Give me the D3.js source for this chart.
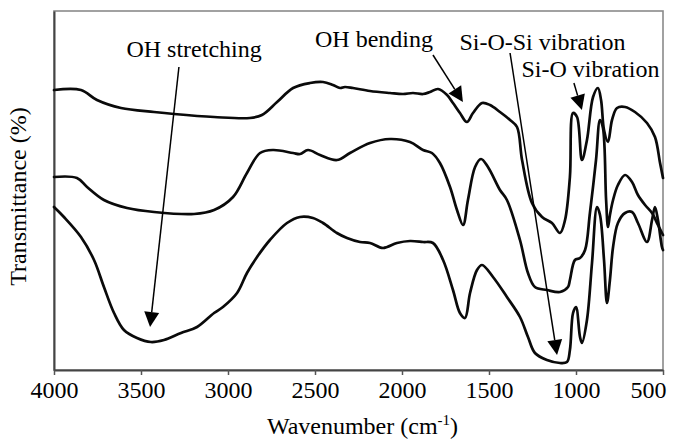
<!DOCTYPE html>
<html>
<head>
<meta charset="utf-8">
<script src="https://cdn.jsdelivr.net/npm/d3@7"></script>
<style>
  html, body { margin: 0; padding: 0; background: #fff; }
  svg { display: block; }
</style>
</head>
<body>
<svg id="chart" width="673" height="443"></svg>
<script>
// ---- data (wavenumber in cm^-1, transmittance in arbitrary units) ----
const tickLabels = [4000, 3500, 3000, 2500, 2000, 1500, 1000, 500];

const topWn = [4000,3845,3753,3615,3425,3310,3080,2874,2805,2718,2626,2529,2454,2397,2356,2328,2282,2184,2069,1994,1937,1879,1839,1793,1741,1707,1667,1627,1592,1540,1494,1437,1379,1339,1310,1253,1195,1138,1092,1063,1035,1017,994,966,937,902,874,856,839,816,793,764,718,661,592,546,517,500];
const topT  = [280,280,270,262,258,256,253,252,255,268,282,287,288,285,282,283,282,279,277,276,277,276,278,281,275,267,257,248,257,267,265,258,250,243,210,167,153,147,137,150,193,257,253,210,230,273,282,270,240,228,250,262,263,258,247,233,207,192];

const midWn = [4000,3868,3810,3713,3580,3425,3195,3080,2971,2891,2816,2741,2626,2586,2540,2471,2374,2299,2184,2069,1954,1879,1828,1782,1724,1684,1649,1621,1580,1546,1506,1437,1397,1322,1276,1236,1167,1092,1046,1035,1006,977,948,920,885,862,845,827,816,805,787,759,718,678,644,603,563,529,500];
const midT  = [193,192,183,170,162,158,156,160,173,197,217,220,217,216,220,215,210,217,227,231,228,220,217,207,183,160,145,170,203,211,203,180,170,130,97,83,80,78,83,90,110,112,120,157,210,250,242,170,143,155,170,185,195,188,175,165,157,145,135];

const botWn = [4000,3943,3845,3770,3713,3655,3598,3523,3443,3368,3270,3178,3080,3029,2948,2891,2833,2759,2661,2586,2512,2454,2374,2316,2241,2184,2109,2029,1954,1879,1822,1764,1707,1667,1638,1609,1569,1540,1477,1397,1322,1276,1236,1167,1092,1052,1035,1017,1000,977,966,937,908,879,862,839,822,805,787,759,718,678,644,592,563,546,529,506,500];
const botT  = [163,153,133,110,83,57,40,32,28,30,37,43,57,63,77,97,113,130,147,153,152,147,137,132,128,127,122,127,129,128,127,110,80,57,52,77,100,105,93,73,53,33,17,10,7,8,20,57,63,33,27,50,107,163,155,110,67,90,123,147,157,158,147,128,150,163,150,123,120];

// annotations (in data coordinates: [wavenumber, T])
const annLabels  = ["OH stretching", "OH bending", "Si-O-Si vibration", "Si-O vibration"];
const annTextPos = [[3195, 313], [2161, 323], [1193, 320], [917, 293]];
const annFrom    = [[3282, 303], [1822, 315], [1379, 317], [1012, 287]];
const annTo      = [[3448, 43], [1650, 268], [1109, 15], [966, 260]];

// ---- drawing ----
const FONT = '"Liberation Serif", "Times New Roman", Times, "DejaVu Serif", serif';
const svg = d3.select("#chart");
const margin = {left: 54, right: 10, top: 11, bottom: 73};
const W = 673, H = 443;

const x = d3.scaleLinear().domain([4000, 500]).range([margin.left, W - margin.right]);
const y = d3.scaleLinear().domain([0, 359]).range([H - margin.bottom, margin.top]);

// frame
svg.append("rect")
  .attr("x", x(4000)).attr("y", y(359))
  .attr("width", x(500) - x(4000)).attr("height", y(0) - y(359))
  .attr("fill", "none").attr("stroke", "#8a8a8a").attr("stroke-width", 1.6);

// x axis
const xAxis = d3.axisBottom(x).tickValues(tickLabels).tickSizeInner(5).tickSizeOuter(0).tickPadding(6)
  .tickFormat(d3.format("d"));
const gx = svg.append("g").attr("transform", `translate(0,${y(0)})`).call(xAxis);
gx.attr("font-family", FONT).attr("font-size", 24);
gx.select(".domain").attr("stroke", "#444").attr("stroke-width", 2);
gx.selectAll(".tick line").attr("stroke", "#555").attr("stroke-width", 1.5);
gx.selectAll(".tick text").style("font-family", FONT).style("font-size", "24px").attr("fill", "#000");
gx.selectAll(".tick text").filter(d => d === 500).attr("text-anchor", "end").attr("x", 3);

// y axis (line only)
const yAxis = d3.axisLeft(y).tickValues([]).tickSizeOuter(0);
const gy = svg.append("g").attr("transform", `translate(${x(4000)},0)`).call(yAxis);
gy.select(".domain").attr("stroke", "#444").attr("stroke-width", 2);

// axis titles
const xt = svg.append("text")
  .attr("x", (x(4000) + x(500)) / 2 + 4).attr("y", 434)
  .attr("text-anchor", "middle").style("font-family", FONT).style("font-size", "24px").attr("fill", "#000");
xt.append("tspan").text("Wavenumber (cm");
xt.append("tspan").attr("dy", -9).style("font-size", "15px").text("-1");
xt.append("tspan").attr("dy", 9).text(")");

svg.append("text")
  .attr("transform", `translate(26,${(y(0) + y(359)) / 2 + 6}) rotate(-90)`)
  .attr("text-anchor", "middle").style("font-family", FONT).style("font-size", "24px").attr("fill", "#000")
  .text("Transmittance (%)");

// curves
const line = d3.line().x(d => x(d[0])).y(d => y(d[1])).curve(d3.curveCatmullRom.alpha(0.5));
const series = [
  d3.zip(topWn, topT),
  d3.zip(midWn, midT),
  d3.zip(botWn, botT)
];
svg.append("g").selectAll("path").data(series).join("path")
  .attr("d", line)
  .attr("fill", "none").attr("stroke", "#0a0a0a").attr("stroke-width", 2.7)
  .attr("stroke-linejoin", "round").attr("stroke-linecap", "round");

// annotations
const ag = svg.append("g");
annLabels.forEach((lab, i) => {
  ag.append("text")
    .attr("x", x(annTextPos[i][0])).attr("y", y(annTextPos[i][1]))
    .attr("text-anchor", "middle").style("font-family", FONT).style("font-size", "24px")
    .attr("fill", "#000").text(lab);
  const x1 = x(annFrom[i][0]), y1 = y(annFrom[i][1]);
  const x2 = x(annTo[i][0]), y2 = y(annTo[i][1]);
  const dx = x2 - x1, dy = y2 - y1, L = Math.hypot(dx, dy);
  const ux = dx / L, uy = dy / L;
  const hl = 15, hw = 7.5;
  const bx = x2 - ux * hl, by = y2 - uy * hl;
  ag.append("line").attr("x1", x1).attr("y1", y1).attr("x2", bx).attr("y2", by)
    .attr("stroke", "#000").attr("stroke-width", 1.5);
  const pts = [[x2, y2], [bx - uy * hw, by + ux * hw], [bx + uy * hw, by - ux * hw]];
  ag.append("path").attr("d", "M" + pts.map(p => p.join(",")).join("L") + "Z").attr("fill", "#000");
});
</script>
</body>
</html>
